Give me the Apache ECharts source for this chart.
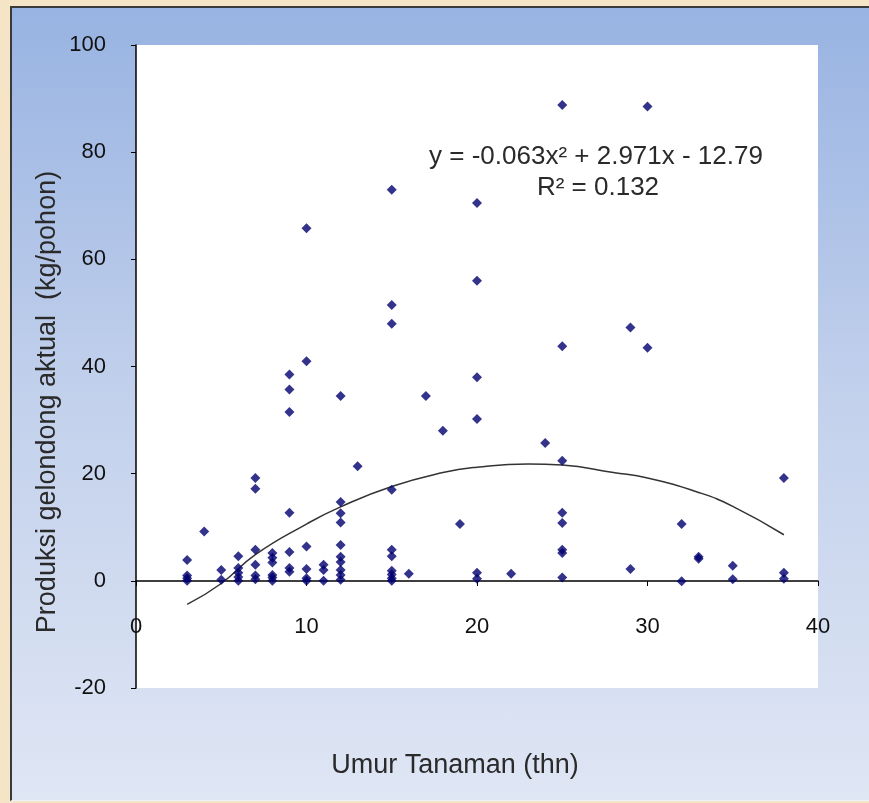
<!DOCTYPE html>
<html>
<head>
<meta charset="utf-8">
<script src="https://cdn.jsdelivr.net/npm/echarts@6/dist/echarts.min.js"></script>
<style>
  body { margin: 0; }
  #wrap { position: relative; width: 869px; height: 803px; background: #f5e5c6; overflow: hidden; }
  #panel { position: absolute; left: 10px; top: 6px; right: 0; bottom: 2px;
           border-left: 2px solid #3a3a3a; border-top: 2px solid #3a3a3a;
           border-bottom: 1px solid #eef1f8;
           background: linear-gradient(#98b3e2, #c3d1ec 50%, #dfe6f4); }
  #chart_001 { position: absolute; left: 0; top: 0; width: 869px; height: 803px; }
</style>
</head>
<body>
<div id="wrap">
  <div id="panel"></div>
  <div id="chart_001"></div>
</div>
<script>
// umur tanaman (tahun) dan produksi per pohon
var umur = [3, 4, 5, 6, 7, 8, 9, 10, 11, 12, 13, 15, 16, 17, 18, 19, 20, 22, 24, 25, 29, 30, 32, 33, 35, 38];
var produksi = [
  [3.9, 1.0, 0.5, 0],
  [9.2],
  [2.0, 0.2],
  [4.6, 2.4, 1.5, 0.7, 0],
  [19.2, 17.2, 5.8, 3.0, 1.0, 0.3],
  [5.2, 4.3, 3.4, 1.1, 0.6, 0],
  [38.5, 35.7, 31.5, 12.7, 5.4, 2.4, 1.7],
  [65.8, 41.0, 6.4, 2.2, 0.5, 0],
  [3.0, 2.0, 0],
  [34.5, 14.7, 12.6, 10.9, 6.7, 4.5, 3.5, 2.0, 1.1, 0.2],
  [21.4],
  [73.0, 51.5, 48.0, 17.0, 5.8, 4.6, 1.9, 1.2, 0.5, 0],
  [1.3],
  [34.5],
  [28.0],
  [10.6],
  [70.5, 56.0, 38.0, 30.2, 1.5, 0.4],
  [1.3],
  [25.7],
  [88.8, 43.8, 22.4, 12.7, 10.8, 5.8, 5.2, 0.6],
  [47.3, 2.2],
  [88.5, 43.5],
  [10.6, -0.1],
  [4.5, 4.1],
  [2.8, 0.3],
  [19.2, 1.5, 0.4]
];
// garis trend polinomial
var trendX = [3, 5, 7, 10, 12, 15, 18, 20, 23, 25, 28, 30, 33, 35, 38];
var trendY = [-4.4, -0.5, 4.9, 10.6, 13.8, 17.6, 20.2, 21.2, 21.8, 21.6, 20.2, 19.2, 16.5, 13.9, 8.6];
var xTicks = [0, 10, 20, 30, 40];
var yTicks = [-20, 0, 20, 40, 60, 80, 100];

var myChart = echarts.init(document.getElementById('chart_001'));

var points = [];
umur.forEach(function (u, i) {
  produksi[i].forEach(function (v) { points.push([u, v]); });
});
var trend = trendX.map(function (x, i) { return [x, trendY[i]]; });

var font = 'Liberation Sans, Arial, sans-serif';

option = {
  backgroundColor: 'transparent',
  animation: false,
  grid: {
    left: 136, right: 51, top: 45, bottom: 115,
    show: true, backgroundColor: '#ffffff', borderWidth: 0
  },
  xAxis: {
    type: 'value',
    min: xTicks[0], max: xTicks[xTicks.length - 1], interval: 10,
    offset: -107,   // garis sumbu x di y = 0
    axisLine: { onZero: false, lineStyle: { color: '#000', width: 1.5 } },
    axisTick: { show: true, length: 5, lineStyle: { color: '#000' } },
    axisLabel: { margin: 35, fontSize: 22, color: '#111', fontFamily: font },
    splitLine: { show: false }
  },
  yAxis: {
    type: 'value',
    min: yTicks[0], max: yTicks[yTicks.length - 1], interval: 20,
    axisLine: { show: true, onZero: false, lineStyle: { color: '#000', width: 1.5 } },
    axisTick: { show: true, length: 5, lineStyle: { color: '#000' } },
    axisLabel: { margin: 30, fontSize: 22, color: '#111', fontFamily: font },
    splitLine: { show: false }
  },
  graphic: [
    { type: 'text', x: 596, y: 157,
      style: { text: 'y = -0.063x² + 2.971x - 12.79', fill: '#2a2a2a', font: '26px ' + font,
               textAlign: 'center', textVerticalAlign: 'middle' } },
    { type: 'text', x: 598, y: 188,
      style: { text: 'R² = 0.132', fill: '#2a2a2a', font: '26px ' + font,
               textAlign: 'center', textVerticalAlign: 'middle' } },
    { type: 'text', x: 48, y: 402, rotation: Math.PI / 2,
      style: { text: 'Produksi gelondong aktual  (kg/pohon)', fill: '#2a2a2a', font: '27px ' + font,
               textAlign: 'center', textVerticalAlign: 'middle' } },
    { type: 'text', x: 455, y: 766,
      style: { text: 'Umur Tanaman (thn)', fill: '#2a2a2a', font: '27px ' + font,
               textAlign: 'center', textVerticalAlign: 'middle' } }
  ],
  series: [
    {
      name: 'trend',
      type: 'line',
      data: trend,
      smooth: true,
      showSymbol: false,
      lineStyle: { color: '#333', width: 1.5 },
      z: 2
    },
    {
      name: 'produksi',
      type: 'scatter',
      data: points,
      symbol: 'diamond',
      symbolSize: 10,
      itemStyle: { color: '#00006e' },
      z: 3
    }
  ]
};

myChart.setOption(option);
</script>
</body>
</html>
